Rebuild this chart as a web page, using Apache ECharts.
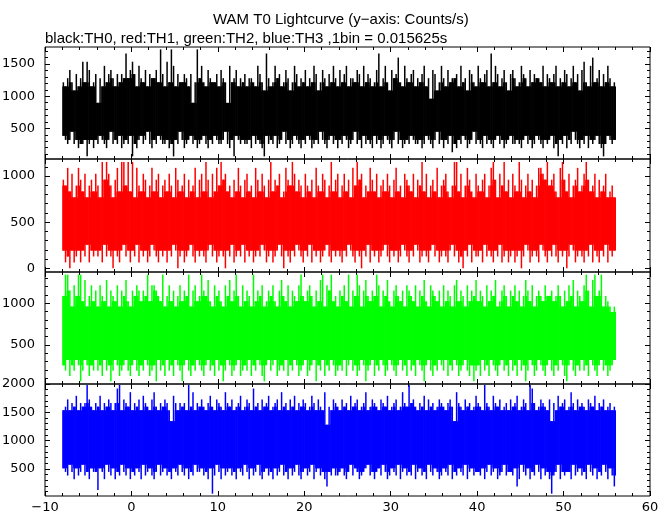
<!DOCTYPE html>
<html>
<head>
<meta charset="utf-8">
<script src="https://cdn.jsdelivr.net/npm/echarts@6/dist/echarts.min.js"></script>
<style>
html,body{margin:0;padding:0;background:#fff;}
#chart{width:672px;height:515px;}
</style>
</head>
<body>
<div id="chart"></div>
<script>
// ---- Data (counts/s), one column = max (hi) and min (lo) within 0.25 s, starting at t = -8 s ----
const binStart = -8;
const binWidth = 0.25;

const th0Hi = [
1216,1152,1280,1408,1216,1088,1344,1152,1280,1536,1216,1536,1408,1152,1216,1344,
896,1280,1152,1472,1216,1344,1408,1280,1152,1344,1216,1344,1280,1664,1280,1408,
1536,1344,1152,1472,1280,1216,1408,1152,1344,1280,1280,1408,1216,1728,1344,1152,
1536,1216,1728,1472,1152,1344,1216,1216,1344,1280,1152,1344,896,1216,1728,1280,
1472,1216,1152,1408,1280,1216,1216,1344,1152,1408,1280,1216,896,1472,1216,1280,
1408,1152,1280,1216,1344,1152,1280,1280,1216,1152,1472,1344,1216,1088,1664,1280,
1152,1216,1472,1280,1344,1152,1216,1408,1280,1088,1216,1472,1344,1152,1280,1216,
1408,1152,1280,1216,1472,1344,1088,1216,1408,1280,1152,1344,1216,1472,1280,1152,
1408,1216,1344,1472,1152,1280,1280,1216,1408,1344,1152,1472,1216,1344,1280,1152,
1216,1408,1664,1152,1280,1472,1216,1088,1408,1280,1344,1600,1216,1152,1472,1280,
1216,1344,1408,1152,1280,1216,1344,1472,1152,1280,960,1408,1344,1088,1216,1472,
1280,1152,1408,1216,1280,1280,1344,1152,1472,1216,1280,1088,1408,1344,1216,1152,
1472,1280,1216,1344,1408,1152,1664,1216,1472,1344,1152,1280,1408,1216,1088,1344,
1408,1280,1152,1216,1472,1344,1280,1152,1408,1216,1344,1280,1280,1216,1472,1152,
1344,1280,1216,1344,1472,1152,1280,1216,1408,1344,1152,1280,1472,1216,1344,1088,
1408,1536,1216,1152,1472,1600,1216,1280,1408,1152,1344,1216,1472,1280,1152,1216
];
const th0Lo = [
384,320,256,320,448,256,320,192,256,256,320,64,256,320,192,320,
256,384,320,256,192,320,448,256,320,256,384,192,256,320,256,384,
64,256,192,320,384,256,320,448,256,192,320,256,384,320,256,256,
320,192,256,64,320,256,448,320,192,256,320,384,256,320,192,256,
320,384,256,192,320,256,384,320,256,256,320,448,256,192,320,64,
384,320,256,320,256,256,320,192,384,256,320,256,192,64,384,256,
320,256,384,192,256,320,448,256,320,192,256,384,320,256,192,320,
256,384,320,192,256,320,256,448,320,256,192,320,384,256,320,192,
320,256,384,320,192,256,320,448,256,320,192,384,256,320,256,192,
384,256,320,192,256,384,320,256,192,320,448,256,320,192,256,320,
256,384,320,256,256,320,192,256,384,320,256,192,320,448,256,320,
192,320,256,384,128,256,192,320,256,384,320,192,256,320,448,256,
320,256,192,384,256,320,256,192,320,384,256,320,192,256,320,384,
256,256,320,256,192,320,384,256,320,192,256,384,320,256,192,320,
256,320,384,192,256,64,320,256,384,192,320,256,448,320,256,192,
320,256,384,192,320,256,320,384,256,192,64,256,384,320,256,320
];

const th1Hi = [
960,896,1088,832,1024,768,896,1088,960,832,1024,768,896,960,832,1024,
896,768,1152,960,1152,1024,896,768,960,1088,832,1152,1152,896,1152,832,
1152,768,1088,896,832,1024,960,768,896,1088,832,960,1024,768,896,960,
832,1024,896,768,1088,960,832,896,1024,768,960,832,896,1088,768,960,
1024,832,1152,960,768,1024,832,1088,896,1152,960,1024,832,896,768,960,
832,1088,896,768,960,1024,832,896,768,1088,960,832,1024,896,768,960,
1152,832,960,896,1024,768,832,1088,960,896,1152,1024,832,960,896,768,
1024,896,832,960,768,1088,896,832,1024,960,768,896,1152,832,960,1024,
768,896,1024,832,960,768,1088,896,1152,960,1024,768,896,832,1088,960,
832,1024,768,896,960,832,1024,896,768,960,1088,832,896,768,1024,960,
896,832,1024,768,960,896,1152,832,1024,768,896,960,832,1088,768,896,
960,1024,832,768,896,1152,1152,832,1024,768,896,1088,960,832,768,1024,
896,832,960,1024,768,896,1088,1152,960,768,1024,896,1152,832,960,768,
1024,896,832,1152,960,768,896,1024,832,960,768,896,1088,1088,1024,960,
1152,896,960,1024,832,768,1088,1152,960,832,1024,768,896,960,1088,832,
896,1024,1152,960,832,896,1024,768,960,832,896,1024,768,832,896,768
];
const th1Lo = [
192,64,128,0,192,64,128,192,64,192,128,256,64,192,128,192,
128,192,64,256,128,192,128,0,192,128,64,192,256,128,192,64,
192,128,256,64,192,128,192,64,128,256,192,128,64,192,128,192,
64,192,128,256,192,0,128,192,64,128,192,256,128,64,192,128,
192,128,64,192,256,128,192,64,128,192,128,0,192,128,256,64,
128,192,128,256,64,192,128,192,64,128,192,128,256,192,64,128,
192,64,128,192,256,128,0,192,128,64,192,128,256,192,128,64,
192,128,256,64,192,128,192,64,128,192,256,128,64,192,128,192,
128,64,192,128,256,192,128,64,192,128,0,192,128,256,64,192,
128,192,64,128,192,256,128,64,192,128,192,64,128,256,192,128,
64,192,128,256,192,64,128,192,128,64,192,256,128,192,64,128,
192,128,64,192,256,128,192,64,128,0,192,128,256,64,192,128,
128,192,64,256,128,192,128,64,192,128,256,64,128,192,64,128,
192,64,128,192,0,128,256,192,64,128,192,128,64,256,192,128,
64,192,128,256,128,64,192,128,192,0,128,256,192,64,128,192,
128,64,192,128,256,64,192,128,64,192,128,256,64,192,128,192
];

const th2Hi = [
1088,1344,1344,1152,960,1216,1088,1344,1344,1024,1280,960,1088,1216,1024,1152,
960,1216,1088,1024,1280,960,1152,1088,1024,1216,960,1152,1088,1280,1024,960,
1152,1088,1216,1152,1024,1152,1088,1344,1024,1216,1216,1152,1088,1024,1344,960,
1088,1216,1024,1152,960,1088,1216,1024,1152,1088,1344,960,1152,1216,1024,1088,
1344,1152,1088,1280,1024,960,1216,1088,1152,1024,960,1216,1088,1280,1024,1152,
1344,1088,960,1216,1024,1152,1088,960,1344,1024,1152,1088,1216,960,1024,1152,
1088,1216,1024,960,1152,1280,1088,1024,1216,960,1152,1088,1024,1216,1344,1088,
1024,1152,1216,1088,960,1152,1024,1280,1344,960,1216,1152,1344,1024,1088,960,
1152,1088,1216,1024,1344,960,1152,1088,1344,1216,960,1152,1280,1088,1024,1152,
1088,1344,1216,960,1152,1088,1280,1024,960,1152,1216,1088,1024,1152,960,1216,
1152,1088,1024,1216,960,1152,1088,1280,1024,960,1216,1152,1088,1024,1152,960,
1216,1024,1152,1088,960,1216,1280,1024,1152,1088,960,1216,1024,1152,1088,1280,
1024,1152,1088,960,1216,1024,1152,1088,1280,960,1024,1152,1216,1088,960,1152,
1088,1216,1024,1152,960,1088,1280,1152,1024,1216,960,1088,1152,1088,1024,1216,
1088,1088,1152,1024,1088,1216,1088,960,1152,1024,1216,1088,1280,960,1152,1088,
1024,1216,1344,1152,960,1280,1344,1088,1152,1344,960,1088,1024,960,896,960
];
const th2Lo = [
256,192,320,128,256,192,320,256,64,192,320,256,128,256,192,320,
192,256,128,320,192,256,64,192,320,256,128,192,256,320,192,128,
256,320,192,128,256,192,320,256,128,192,256,64,320,192,256,128,
320,192,256,128,320,256,192,64,256,320,192,128,256,192,320,256,
192,128,256,320,192,256,128,320,192,256,64,192,320,256,128,192,
256,320,128,192,256,192,320,128,256,192,320,256,128,64,256,320,
192,256,320,128,192,256,192,320,128,256,192,320,256,128,192,256,
320,128,192,256,320,64,256,192,320,128,256,192,320,256,128,192,
256,192,320,128,256,320,192,256,128,192,320,256,64,192,256,320,
128,256,192,320,256,128,192,320,256,192,128,256,320,192,256,128,
320,192,256,128,320,256,192,64,256,320,192,128,256,192,320,256,
192,320,128,256,192,320,256,128,192,256,320,192,128,256,64,192,
256,128,320,192,256,128,320,256,192,128,256,320,192,256,128,320,
192,256,128,320,192,256,64,192,320,256,128,192,320,256,192,128,
256,320,192,128,256,192,320,256,128,64,256,320,192,128,256,192,
320,192,256,128,320,256,192,128,256,320,192,256,128,192,256,320
];

const th3Hi = [
1536,1600,1728,1536,1664,1600,1792,1536,1664,1600,1664,1984,1728,1600,1536,1664,
1600,1792,1536,1664,1600,1728,1664,1536,1664,1920,1984,1536,1728,1664,1600,1856,
1536,1664,1600,1728,1536,1792,1664,1600,1536,1728,1856,1600,1536,1664,1600,1728,
1664,1536,1344,1792,1664,1536,1664,1600,1664,1536,1984,1600,1856,1536,1664,1600,
1728,1600,1536,1664,1792,1600,1536,1728,1664,1600,1536,1856,1664,1600,1728,1536,
1600,1664,1792,1536,1600,1728,1664,1536,1920,1600,1664,1536,1728,1600,1664,1792,
1536,1600,1664,1728,1536,1856,1600,1664,1536,1728,1600,1792,1536,1664,1600,1728,
1664,1536,1600,1792,1664,1536,1728,1600,1536,1856,1280,1600,1536,1728,1664,1600,
1536,1728,1600,1664,1536,1792,1600,1664,1728,1536,1600,1664,1856,1536,1600,1728,
1664,1600,1536,1728,1664,1600,1792,1536,1600,1664,1728,1536,1600,1856,1664,1600,
1984,1664,1728,1600,1536,1664,1600,1792,1536,1728,1600,1664,1536,1600,1728,1664,
1600,1536,1664,1728,1600,1344,1856,1664,1600,1536,1728,1600,1664,1536,1600,1792,
1664,1600,1536,1984,1664,1600,1536,1792,1664,1600,1728,1536,1600,1664,1536,1728,
1600,1664,1792,1536,1600,1728,1664,1536,1984,1920,1664,1536,1600,1728,1664,1600,
1536,1728,1344,1664,1536,1792,1600,1664,1728,1536,1600,1856,1664,1536,1728,1600,
1664,1600,1536,1728,1664,1600,1792,1536,1664,1600,1728,1536,1600,1664,1536,1600
];
const th3Lo = [
512,448,384,576,448,320,512,384,448,576,384,448,320,512,448,448,
128,512,448,320,576,448,384,512,320,448,384,576,448,384,512,320,
448,384,512,448,320,576,384,448,512,384,320,448,576,384,448,512,
384,448,320,512,448,384,576,448,384,512,320,448,384,576,448,448,
512,384,448,320,512,64,384,576,448,320,512,384,448,512,384,448,
320,512,448,384,576,448,320,512,384,448,576,384,320,448,512,384,
448,320,512,384,448,576,384,448,320,512,384,448,576,384,320,448,
512,384,448,576,320,448,512,384,448,320,192,448,384,512,384,384,
448,512,384,320,448,576,384,512,448,320,384,448,512,576,384,448,
320,448,512,384,576,448,320,384,512,448,384,576,320,448,512,384,
448,384,576,320,448,512,384,448,320,576,448,384,512,448,320,384,
512,448,384,576,320,448,384,512,448,384,576,320,448,512,384,448,
448,384,512,320,448,576,384,448,512,320,384,448,576,384,448,448,
384,512,192,320,576,448,384,512,320,448,384,576,448,320,512,384,
448,320,64,384,448,576,320,448,384,448,448,320,576,384,448,512,
384,448,320,576,448,384,512,320,448,384,576,448,320,512,384,192
];

// ---- Axes / labels ----
const titleText = 'WAM T0 Lightcurve (y\u2212axis: Counts/s)';
const subtitleText = 'black:TH0, red:TH1, green:TH2, blue:TH3 ,1bin = 0.015625s';
const xMin = -10, xMax = 60, xStep = 10;
const panelMin = [23, -40, 32, 23];
const panelMax = [1765, 1184, 1375, 2000];
const majorTicks = [
  [500, 1000, 1500],
  [0, 500, 1000],
  [500, 1000],
  [500, 1000, 1500, 2000]
];
const minorTicks = [
  [100,200,300,400,500,600,700,800,900,1000,1100,1200,1300,1400,1500,1600,1700],
  [0,100,200,300,400,500,600,700,800,900,1000,1100],
  [100,200,300,400,500,600,700,800,900,1000,1100,1200,1300],
  [100,200,300,400,500,600,700,800,900,1000,1100,1200,1300,1400,1500,1600,1700,1800,1900,2000]
];
const seriesHi = [th0Hi, th1Hi, th2Hi, th3Hi];
const seriesLo = [th0Lo, th1Lo, th2Lo, th3Lo];
const seriesNames = ['TH0', 'TH1', 'TH2', 'TH3'];
const colors = ['#000000', '#ff0000', '#00ff00', '#0000ff'];

// ---- Layout ----
const gridTops = [47, 159, 272, 384];
const gridHeights = [112, 113, 112, 112];
const gridLeft = 45, gridRight = 22;

const chart = echarts.init(document.getElementById('chart'), null, {renderer: 'canvas'});

const grids = [], xAxes = [], yAxes = [], series = [];
const labelFont = {fontFamily: 'DejaVu Sans', fontSize: 13, color: '#000'};
function plainNumber(v) { return v < 0 ? '\u2212' + Math.abs(v) : String(v); }

for (let g = 0; g < 4; g++) {
  grids.push({left: gridLeft, right: gridRight, top: gridTops[g], height: gridHeights[g],
    containLabel: false, outerBoundsMode: 'none',
    show: true, borderColor: '#000', borderWidth: 1, backgroundColor: 'transparent'});
  ['bottom', 'top'].forEach(function (pos) {
    xAxes.push({
      type: 'value', gridIndex: g, position: pos, min: xMin, max: xMax, interval: xStep,
      axisLine: {show: false, onZero: false},
      axisTick: {show: true, inside: true, length: 5, lineStyle: {color: '#000', width: 1}},
      minorTick: {show: true, splitNumber: 5, length: 3, lineStyle: {color: '#000', width: 1}},
      splitLine: {show: false},
      axisLabel: Object.assign({
        show: (g === 3 && pos === 'bottom'), margin: 5, hideOverlap: false,
        formatter: plainNumber
      }, labelFont)
    });
  });
  ['left', 'right'].forEach(function (pos) {
    yAxes.push({
      type: 'value', gridIndex: g, position: pos, min: panelMin[g], max: panelMax[g],
      axisLine: {show: false, onZero: false},
      axisTick: {show: true, inside: true, length: 5, customValues: majorTicks[g], lineStyle: {color: '#000', width: 1}},
      splitLine: {show: false},
      axisLabel: Object.assign({show: pos === 'left', margin: 10, customValues: majorTicks[g], formatter: plainNumber}, labelFont)
    });
    yAxes.push({
      type: 'value', gridIndex: g, position: pos, min: panelMin[g], max: panelMax[g],
      axisLine: {show: false, onZero: false},
      axisTick: {show: true, inside: true, length: 3, customValues: minorTicks[g], lineStyle: {color: '#000', width: 1}},
      splitLine: {show: false},
      axisLabel: {show: false}
    });
  });
  const hi = seriesHi[g], lo = seriesLo[g];
  const n = hi.length;
  const data = hi.map(function (h, i) { return [binStart + i * binWidth, lo[i], h]; });
  const col = colors[g];
  series.push({
    type: 'custom', name: seriesNames[g], xAxisIndex: 2 * g, yAxisIndex: 4 * g,
    clip: true, silent: true,
    encode: {x: 0, y: [1, 2]},
    data: data,
    renderItem: function (params, api) {
      const i = params.dataIndex;
      const t = api.value(0), l = api.value(1), h = api.value(2);
      const ip = Math.max(i - 1, 0), inx = Math.min(i + 1, n - 1);
      // solid part: where this column and its neighbours all overlap
      const hCore = Math.min(h, hi[ip], hi[inx]);
      const lCore = Math.max(l, lo[ip], lo[inx]);
      const a = api.coord([t, hCore]);
      const b = api.coord([t + binWidth, lCore]);
      const top = api.coord([t + binWidth / 2, h]);
      const bot = api.coord([t + binWidth / 2, l]);
      return {
        type: 'group',
        children: [
          {type: 'rect', shape: {x: a[0], y: a[1], width: (b[0] - a[0]) + 0.6, height: b[1] - a[1]}, style: {fill: col}},
          {type: 'rect', shape: {x: top[0] - 0.75, y: top[1], width: 1.5, height: bot[1] - top[1]}, style: {fill: col}}
        ]
      };
    }
  });
}

chart.setOption({
  animation: false,
  backgroundColor: '#fff',
  grid: grids,
  xAxis: xAxes,
  yAxis: yAxes,
  series: series,
  graphic: [
    {type: 'text', left: 213, top: 12, style: {text: titleText, fontFamily: 'Liberation Sans', fontSize: 15, fill: '#000'}},
    {type: 'text', left: 45, top: 31, style: {text: subtitleText, fontFamily: 'Liberation Sans', fontSize: 15, fill: '#000'}}
  ]
});
</script>
</body>
</html>
